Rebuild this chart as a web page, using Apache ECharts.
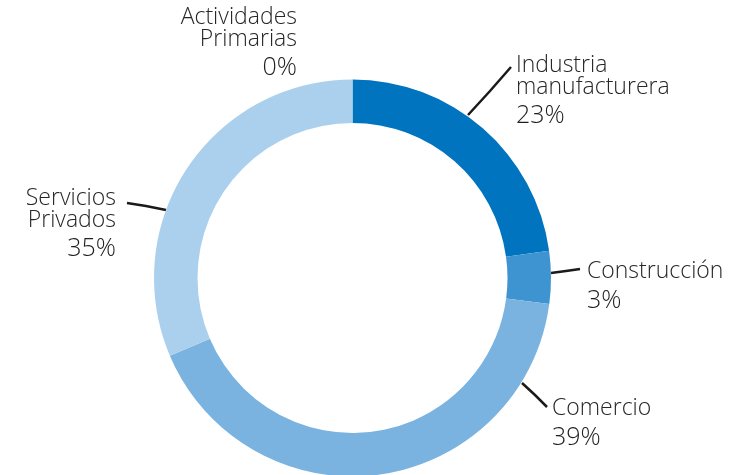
<!DOCTYPE html>
<html>
<head>
<meta charset="utf-8">
<script src="https://cdn.jsdelivr.net/npm/echarts@6/dist/echarts.min.js"></script>
<style>
  html, body { margin: 0; padding: 0; background: #fff; }
  #chart { width: 750px; height: 475px; }
</style>
</head>
<body>
<div id="chart"></div>
<script>
// sectors, in clockwise order starting at 12 o'clock
const sectors = ['Industria\nmanufacturera', 'Construcción', 'Comercio', 'Servicios\nPrivados', 'Actividades\nPrimarias']
// arc shares as drawn in the picture
const shares = [22.8, 4.3, 41.5, 31.4, 0]
// percentages as printed on the labels
const pctLabels = ['23%', '3%', '39%', '35%', '0%']
const colors = ['#0074be', '#3e93d1', '#7ab3e0', '#abd0ee', '#abd0ee']

// where each label sits, and its leader line
const labelPos = [
  { x: 516, y: 55, align: 'left', line: [[468, 115], [490, 91], [511, 67]] },
  { x: 587, y: 261, align: 'left', line: [[551, 273], [566, 271], [580, 269]] },
  { x: 552, y: 398, align: 'left', line: [[522, 383], [535, 395], [547, 407]] },
  { x: 116, y: 188, align: 'right', line: [[166, 210], [146, 206], [127, 203]] },
  { x: 297, y: 7, align: 'right', line: null }
]

const chart = echarts.init(document.getElementById('chart'))

const option = {
  animation: false,
  series: [{
    type: 'pie',
    center: [352.5, 278],
    radius: [155, 198.5],
    startAngle: 90,
    clockwise: true,
    avoidLabelOverlap: false,
    stillShowZeroSum: true,
    itemStyle: { borderWidth: 0 },
    label: {
      show: true,
      color: '#262626',
      fontFamily: 'Open Sans',
      formatter: p => '{n|' + p.name + '}\n{p|' + pctLabels[p.dataIndex] + '}',
      rich: {
        n: { fontSize: 23, lineHeight: 21.5, fontFamily: 'Open Sans', fontWeight: 300, color: '#262626' },
        p: { fontSize: 25, lineHeight: 36, fontFamily: 'Open Sans', fontWeight: 300, color: '#1e1e1e' }
      }
    },
    labelLine: {
      show: true,
      lineStyle: { color: '#1a1a1a', width: 2.5 }
    },
    labelLayout: function (params) {
      const lp = labelPos[params.dataIndex]
      const res = { x: lp.x, y: lp.y, align: lp.align, verticalAlign: 'top' }
      if (lp.line) res.labelLinePoints = lp.line
      return res
    },
    data: sectors.map((s, i) => ({
      name: s,
      value: shares[i],
      itemStyle: { color: colors[i] },
      labelLine: { show: labelPos[i].line !== null }
    }))
  }]
}

chart.setOption(option)
</script>
</body>
</html>
